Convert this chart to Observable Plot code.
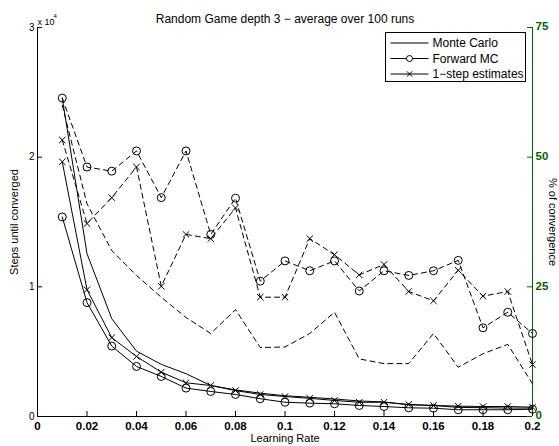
<!DOCTYPE html>
<html>
<head>
<meta charset="utf-8">
<script src="https://cdn.jsdelivr.net/npm/d3@7"></script>
<script src="https://cdn.jsdelivr.net/npm/@observablehq/plot@0.6"></script>
<style>
  html, body { margin: 0; padding: 0; background: #fff; }
  #chart svg { display: block; }
</style>
</head>
<body>
<div id="chart"></div>
<script>
// ---------- data ----------
const learningRate = [0.01, 0.02, 0.03, 0.04, 0.05, 0.06, 0.07, 0.08, 0.09, 0.10,
                      0.11, 0.12, 0.13, 0.14, 0.15, 0.16, 0.17, 0.18, 0.19, 0.20];

// Steps until converged (left axis)
const mcSteps      = [24560, 12560, 7540, 5040, 4020, 3300, 2390, 2050, 1800, 1600,
                      1480, 1350, 1200, 1120, 900, 850, 700, 680, 650, 650];
const fmcSteps     = [15390, 8780, 5430, 3860, 3090, 2190, 1930, 1700, 1370, 1100,
                      1030, 980, 850, 770, 670, 640, 520, 520, 520, 560];
const oneStepSteps = [19640, 9780, 6080, 4630, 3420, 2600, 2390, 2000, 1700, 1540,
                      1400, 1240, 1100, 1100, 930, 850, 800, 770, 770, 720];

// % of convergence (right axis)
const mcPct      = [60.0, 41.0, 32.0, 27.2, 23.0, 19.1, 16.0, 20.6, 13.3, 13.4,
                    16.0, 20.1, 11.1, 10.2, 10.2, 16.0, 9.5, 12.1, 13.9, 6.3];
const fmcPct     = [61.4, 48.1, 47.3, 51.2, 42.2, 51.2, 35.1, 42.1, 26.1, 30.0,
                    28.1, 30.0, 24.2, 28.1, 27.2, 28.1, 30.1, 17.1, 20.1, 16.0];
const oneStepPct = [53.3, 37.2, 42.2, 48.1, 25.1, 35.1, 34.3, 40.2, 23.0, 23.0,
                    34.3, 31.2, 27.3, 29.3, 24.1, 22.3, 28.2, 23.2, 24.1, 10.0];

const xTicks = [0, 0.02, 0.04, 0.06, 0.08, 0.1, 0.12, 0.14, 0.16, 0.18, 0.2];
const xTickLabels = ["0", "0.02", "0.04", "0.06", "0.08", "0.1", "0.12", "0.14", "0.16", "0.18", "0.2"];
const yTicks = [0, 10000, 20000, 30000];
const yTickLabels = ["0", "1", "2", "3"];
const pctTicks = [0, 25, 50, 75];

const title = "Random Game depth 3 \u2212 average over 100 runs";
const xLabel = "Learning Rate";
const yLabel = "Steps until converged";
const y2Label = "% of convergence";
const legendLabels = ["Monte Carlo", "Forward MC", "1\u2212step estimates"];

// ---------- layout ----------
const W = 559, H = 446;
const mL = 37, mR = 27, mT = 27, mB = 30;
const innerW = W - mL - mR, innerH = H - mT - mB;
const yMax = 30000, pctMax = 75;
const pctToSteps = yMax / pctMax;   // right axis shares the left scale
const green = "#006400";
const dash = "5,4";

const rows = learningRate.map((lr, i) => ({
  lr,
  mcSteps: mcSteps[i], fmcSteps: fmcSteps[i], oneStepSteps: oneStepSteps[i],
  mcPct: mcPct[i] * pctToSteps, fmcPct: fmcPct[i] * pctToSteps, oneStepPct: oneStepPct[i] * pctToSteps
}));

const font = "'Liberation Sans', Arial, Helvetica, sans-serif";

const chart = Plot.plot({
  width: W, height: H,
  marginLeft: mL, marginRight: mR, marginTop: mT, marginBottom: mB,
  style: { fontFamily: font, fontSize: "10px", background: "#fff", color: "#000" },
  x: { domain: [0, 0.2], axis: null },
  y: { domain: [0, yMax], axis: null },
  marks: [
    // axes lines
    Plot.ruleY([0], { stroke: "black", strokeWidth: 1 }),
    Plot.ruleX([0], { stroke: "black", strokeWidth: 1 }),
    Plot.ruleX([0.2], { stroke: green, strokeWidth: 1 }),
    // inward ticks
    Plot.tickX(xTicks, { x: d => d, insetTop: innerH - 5, stroke: "black" }),
    Plot.tickY(yTicks, { y: d => d, insetRight: innerW - 5, stroke: "black" }),
    Plot.tickY(pctTicks, { y: d => d * pctToSteps, insetLeft: innerW - 5, stroke: green }),
    // tick labels
    Plot.text(xTicks, { x: d => d, text: (d, i) => xTickLabels[i], frameAnchor: "bottom", dy: 9.5,
      textAnchor: "middle", fontSize: 11.5, fontWeight: "bold", lineAnchor: "middle" }),
    Plot.text(yTicks, { y: d => d, text: (d, i) => yTickLabels[i], frameAnchor: "left", dx: -3,
      textAnchor: "end", fontSize: 10 }),
    Plot.text(pctTicks, { y: d => d * pctToSteps, text: d => String(d), frameAnchor: "right", dx: 3, dy: -1,
      textAnchor: "start", fontSize: 11.5, fontWeight: "bold", fill: green }),
    // exponent
    Plot.text(["x 10"], { frameAnchor: "top-left", dx: 0, dy: -9, textAnchor: "start", fontSize: 9 }),
    Plot.text(["4"], { frameAnchor: "top-left", dx: 16, dy: -14, textAnchor: "start", fontSize: 6 }),
    // titles
    Plot.text([title], { frameAnchor: "top", dy: -13, textAnchor: "middle", fontSize: 12 }),
    Plot.text([xLabel], { frameAnchor: "bottom", dy: 25, textAnchor: "middle", fontSize: 11 }),
    Plot.text([yLabel], { frameAnchor: "left", dx: -23, rotate: -90, textAnchor: "middle", fontSize: 11 }),
    Plot.text([y2Label], { frameAnchor: "right", dx: 20, rotate: 90, textAnchor: "middle", fontSize: 11 }),
    // % of convergence (dashed)
    Plot.line(rows, { x: "lr", y: "mcPct", stroke: "black", strokeDasharray: dash, strokeWidth: 1 }),
    Plot.line(rows, { x: "lr", y: "fmcPct", stroke: "black", strokeDasharray: dash, strokeWidth: 1 }),
    Plot.line(rows, { x: "lr", y: "oneStepPct", stroke: "black", strokeDasharray: dash, strokeWidth: 1 }),
    Plot.dot(rows, { x: "lr", y: "fmcPct", r: 4, stroke: "black", fill: "none", strokeWidth: 1 }),
    Plot.dot(rows, { x: "lr", y: "oneStepPct", symbol: "times", r: 3, stroke: "black", strokeWidth: 1 }),
    // steps (solid)
    Plot.line(rows, { x: "lr", y: "mcSteps", stroke: "black", strokeWidth: 1 }),
    Plot.line(rows, { x: "lr", y: "fmcSteps", stroke: "black", strokeWidth: 1 }),
    Plot.line(rows, { x: "lr", y: "oneStepSteps", stroke: "black", strokeWidth: 1 }),
    Plot.dot(rows, { x: "lr", y: "fmcSteps", r: 4, stroke: "black", fill: "none", strokeWidth: 1 }),
    Plot.dot(rows, { x: "lr", y: "oneStepSteps", symbol: "times", r: 3, stroke: "black", strokeWidth: 1 })
  ]
});

document.getElementById("chart").appendChild(chart);

// ---------- legend ----------
const svg = d3.select(chart);
const lg = svg.append("g").attr("font-family", font).attr("font-size", 12).attr("text-anchor", "start");
const box = { x: 385.5, y: 32.5, w: 140, h: 49 };
lg.append("rect").attr("x", box.x).attr("y", box.y).attr("width", box.w).attr("height", box.h)
  .attr("fill", "white").attr("stroke", "black").attr("stroke-width", 1);
const markerKinds = ["none", "circle", "times"];
legendLabels.forEach((label, i) => {
  const cy = box.y + 10.5 + i * 15.5;
  const x1 = box.x + 5, x2 = box.x + 43, xm = (x1 + x2) / 2;
  lg.append("line").attr("x1", x1).attr("x2", x2).attr("y1", cy).attr("y2", cy)
    .attr("stroke", "black").attr("stroke-width", 1);
  if (markerKinds[i] === "circle") {
    lg.append("circle").attr("cx", xm).attr("cy", cy).attr("r", 3)
      .attr("fill", "white").attr("stroke", "black");
  } else if (markerKinds[i] === "times") {
    lg.append("path").attr("d", d3.symbol(d3.symbolTimes, 20)())
      .attr("transform", `translate(${xm},${cy})`).attr("stroke", "black").attr("fill", "none");
  }
  lg.append("text").attr("x", box.x + 47).attr("y", cy).attr("dy", "0.35em")
    .attr("text-anchor", "start").text(label);
});
</script>
</body>
</html>
